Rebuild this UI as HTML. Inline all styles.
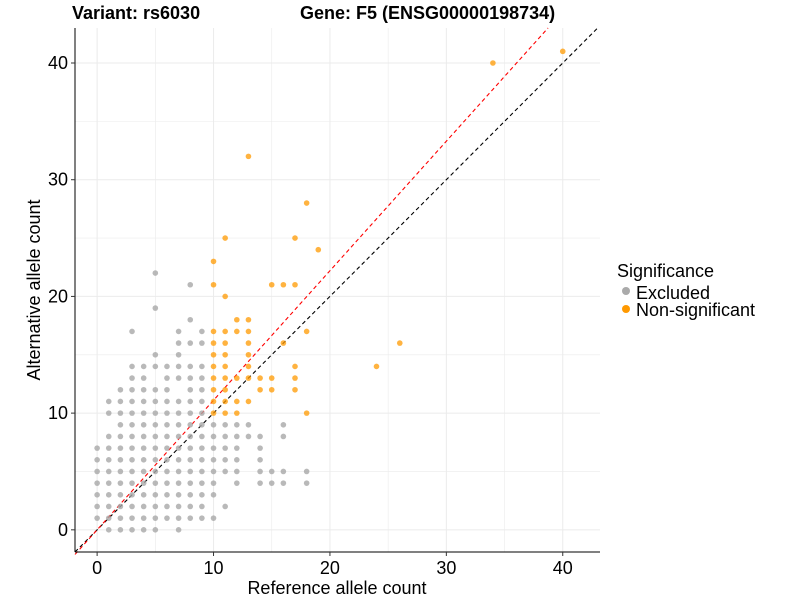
<!DOCTYPE html>
<html><head><meta charset="utf-8"><style>
body{margin:0;background:#fff;font-family:"Liberation Sans",Arial,sans-serif}
svg text{font-family:"Liberation Sans",Arial,sans-serif}
</style></head><body>
<svg id="chart" width="800" height="600">
<text x="72" y="19" font-size="18" font-weight="bold">Variant: rs6030</text>
<text x="300" y="19" font-size="18" font-weight="bold">Gene: F5 (ENSG00000198734)</text>
<g id="grid"></g><g id="lines"></g><g id="pts"></g><g id="axes"></g>
<text x="337" y="594" font-size="18" text-anchor="middle">Reference allele count</text>
<text transform="translate(40,290) rotate(-90)" font-size="18" text-anchor="middle">Alternative allele count</text>
<g>
<text x="617" y="277" font-size="18">Significance</text>
<circle cx="626" cy="291" r="4" fill="#aaaaaa"/>
<text x="636" y="299" font-size="18">Excluded</text>
<circle cx="626" cy="309" r="4" fill="#ff9900"/>
<text x="636" y="316" font-size="18">Non-significant</text>
</g>
</svg>
<script>
const xTicks=[0,10,20,30,40];
const yTicks=[0,10,20,30,40];
const greyRows=[[0,[1,2,3,4,5,7]],[1,[0,1,2,3,4,5,6,7,8,9,10]],[2,[0,1,2,3,4,5,6,7,8,9,11]],[3,[0,1,2,3,4,5,6,7,8,9,10]],
[4,[0,1,2,3,4,5,6,7,8,9,10,12,14,15,16,18]],[5,[0,1,2,3,4,5,6,7,8,9,10,11,12,14,15,16,18]],[6,[0,1,2,3,4,5,6,7,8,9,10,11,12,14]],
[7,[0,1,2,3,4,5,6,7,8,9,10,11,12,14]],[8,[1,2,3,4,5,6,7,8,9,10,11,12,13,14,16]],[9,[2,3,4,5,6,7,8,9,10,11,12,13,16]],
[10,[1,2,3,4,5,6,7,8,9]],[11,[1,2,3,4,5,6,7,8,9]],[12,[2,3,4,5,6,8,9]],[13,[3,4,6,7,8,9]],[14,[3,4,5,6,7,8,9]],
[15,[5,7]],[16,[7,8,9]],[17,[3,7,9]],[18,[8]],[19,[5]],[21,[8]],[22,[5]]];
const orangeRows=[[10,[10,11,12,18]],[11,[10,11,12,13]],[12,[10,11,14,15,17]],[13,[10,11,12,13,14,15,17]],[14,[10,11,13,17,24]],
[15,[10,11,13]],[16,[10,11,13,16,26]],[17,[10,11,12,13,18]],[18,[12,13]],[20,[11]],[21,[10,15,16,17]],[23,[10]],[24,[19]],
[25,[11,17]],[28,[18]],[32,[13]],[40,[34]],[41,[40]]];
const refSlope=1.11;
const NS="http://www.w3.org/2000/svg";
const X0=75,X1=600,Y0=28,Y1=552,xmin=-1.9,xmax=43.2,ymin=-1.9,ymax=43;
const sx=v=>X0+(v-xmin)/(xmax-xmin)*(X1-X0), sy=v=>Y1-(v-ymin)/(ymax-ymin)*(Y1-Y0);
function mk(p,t,a){const e=document.createElementNS(NS,t);for(const k in a)e.setAttribute(k,a[k]);document.getElementById(p).appendChild(e);return e;}
for(let v=0;v<=40;v+=5){
 const g1=mk('grid','line',{x1:sx(v),x2:sx(v),y1:Y0,y2:Y1,stroke:'#ebebeb','stroke-width':v%10?0.6:1});
 
 
 const g2=mk('grid','line',{y1:sy(v),y2:sy(v),x1:X0,x2:X1,stroke:'#ebebeb','stroke-width':v%10?0.6:1});
 
 
}
const l1=mk('lines','line',{x1:sx(xmin),y1:sy(xmin),x2:sx(ymax),y2:sy(ymax),stroke:'#000','stroke-dasharray':'4,3','stroke-width':1.1});


const l2=mk('lines','line',{x1:sx(xmin),y1:sy(xmin*refSlope),x2:sx(ymax/refSlope),y2:sy(ymax),stroke:'#ff0000','stroke-dasharray':'4,3','stroke-width':1.1});


greyRows.forEach(([y,xs])=>xs.forEach(x=>{
 const c=mk('pts','circle',{cx:sx(x),cy:sy(y),r:2.8,fill:'#a8a8a8','fill-opacity':0.8});
 
 
}));
orangeRows.forEach(([y,xs])=>xs.forEach(x=>{
 const c=mk('pts','circle',{cx:sx(x),cy:sy(y),r:2.8,fill:'#ff9900','fill-opacity':0.75});
 
 
}));
const ax=mk('axes','line',{x1:X0,x2:X1,y1:Y1,y2:Y1,stroke:'#000','stroke-width':1});


const ay=mk('axes','line',{x1:X0,x2:X0,y1:Y0,y2:Y1,stroke:'#000','stroke-width':1});


xTicks.forEach(v=>{
 const t=mk('axes','line',{x1:sx(v),x2:sx(v),y1:Y1,y2:Y1+4,stroke:'#333'});
 
 
 const s=mk('axes','text',{x:sx(v),y:Y1+22,'font-size':18,'text-anchor':'middle',fill:'#000'});s.textContent=v;
 
 
});
yTicks.forEach(v=>{
 const t=mk('axes','line',{x1:X0-4,x2:X0,y1:sy(v),y2:sy(v),stroke:'#333'});
 
 
 const s=mk('axes','text',{x:X0-7,y:sy(v)+6,'font-size':18,'text-anchor':'end',fill:'#000'});s.textContent=v;
 
 
});
</script>
</body></html>
